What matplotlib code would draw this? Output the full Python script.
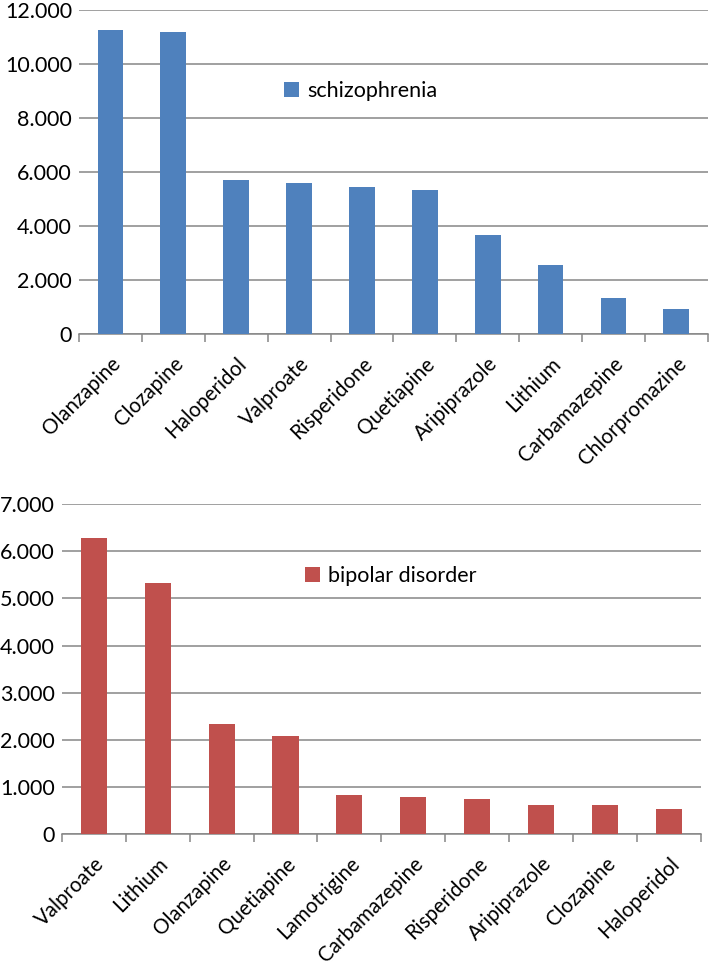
import matplotlib.pyplot as plt
from matplotlib.ticker import FuncFormatter, FixedLocator
from matplotlib.transforms import ScaledTranslation
import numpy as np

plt.rcParams['font.family'] = ['Lato', 'DejaVu Sans']

# schizophrenia
schizo_drugs = ['Olanzapine', 'Clozapine', 'Haloperidol', 'Valproate', 'Risperidone',
                'Quetiapine', 'Aripiprazole', 'Lithium', 'Carbamazepine', 'Chlorpromazine']
schizo_vals = [11245, 11185, 5700, 5590, 5465, 5340, 3690, 2560, 1345, 940]

# bipolar disorder
bipolar_drugs = ['Valproate', 'Lithium', 'Olanzapine', 'Quetiapine', 'Lamotrigine',
                 'Carbamazepine', 'Risperidone', 'Aripiprazole', 'Clozapine', 'Haloperidol']
bipolar_vals = [6280, 5320, 2330, 2080, 830, 785, 740, 615, 615, 530]

grid_col = '#868686'
fs = 15.5


def thousands(v, pos):
    return f"{int(round(v)):,}".replace(',', '.')


def draw(fig, ax, names, vals, color, label, ymax, step, leg_xy):
    x = np.arange(len(names))
    ax.bar(x, vals, width=0.41, color=color, label=label, zorder=3)
    ax.set_xlim(-0.5, len(names) - 0.5)
    ax.set_ylim(0, ymax)
    ax.set_yticks(np.arange(0, ymax + 1, step))
    ax.yaxis.set_major_formatter(FuncFormatter(thousands))
    ax.grid(axis='y', color=grid_col, lw=1.1, zorder=0)
    for s in ['top', 'right', 'left']:
        ax.spines[s].set_visible(False)
    ax.spines['bottom'].set_color(grid_col)
    ax.spines['bottom'].set_linewidth(1.1)
    ax.tick_params(axis='y', length=0, labelsize=fs, pad=5)
    ax.set_xticks(x)
    labels = ax.set_xticklabels(names, rotation=45, ha='right', rotation_mode='anchor', fontsize=14.8)
    shift = ScaledTranslation(-4 / 72, 2 / 72, fig.dpi_scale_trans)
    for t in labels:
        t.set_transform(t.get_transform() + shift)
    ax.tick_params(axis='x', which='major', length=0, pad=14)
    ax.xaxis.set_minor_locator(FixedLocator(np.arange(-0.5, len(names), 1.0)))
    ax.tick_params(axis='x', which='minor', length=6, color=grid_col, width=1.1, direction='out')
    ax.legend(loc='center left', bbox_to_anchor=leg_xy, frameon=False, fontsize=fs,
              handlelength=0.7, handleheight=0.7, handletextpad=0.4,
              borderpad=0, borderaxespad=0)


fig = plt.figure(figsize=(7.12, 9.68), dpi=100)
ax1 = fig.add_axes([0.111, 0.6546, 0.883, 0.3351])
ax2 = fig.add_axes([0.087, 0.1381, 0.897, 0.3412])

draw(fig, ax1, schizo_drugs, schizo_vals, '#4F81BD', 'schizophrenia', 12000, 2000, (0.326, 0.75))
draw(fig, ax2, bipolar_drugs, bipolar_vals, '#C0504D', 'bipolar disorder', 7000, 1000, (0.380, 0.782))

fig.savefig('out.png', dpi=100)
